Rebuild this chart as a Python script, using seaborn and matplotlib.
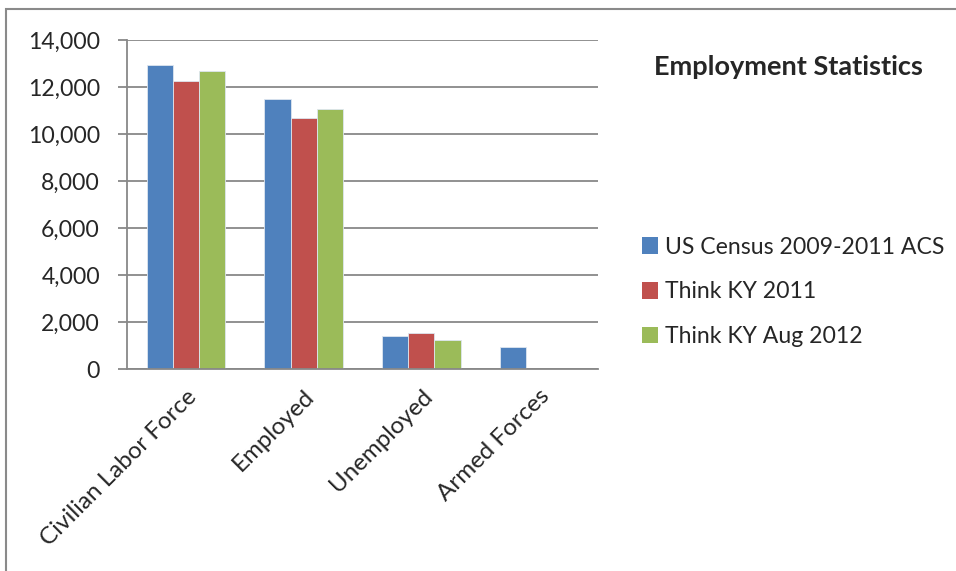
import matplotlib
matplotlib.use("Agg")
import matplotlib.pyplot as plt
import matplotlib.patches as mpatches
import matplotlib.transforms as mtransforms
import seaborn as sns
import pandas as pd

# data
categories = ['Civilian Labor Force', 'Employed', 'Unemployed', 'Armed Forces']
series = ['US Census 2009-2011 ACS', 'Think KY 2011', 'Think KY Aug 2012']
census = [12930, 11480, 1420, 920]
ky_2011 = [12250, 10700, 1530, None]
ky_2012 = [12660, 11050, 1240, None]
colors = ['#4F81BD', '#C0504D', '#9BBB59']

rows = []
for name, vals in zip(series, [census, ky_2011, ky_2012]):
    for cat, v in zip(categories, vals):
        if v is not None:
            rows.append({'Category': cat, 'Source': name, 'Value': v})
df = pd.DataFrame(rows)

sns.set_style('white')
plt.rcParams['font.family'] = ['Lato', 'DejaVu Sans']
fs = 16.6

fig = plt.figure(figsize=(9.56, 5.71), dpi=100)
ax = fig.add_axes([127 / 956, 1 - 369 / 571, (598 - 127) / 956, (369 - 40) / 571])

sns.barplot(data=df, x='Category', y='Value', hue='Source', order=categories,
            hue_order=series, palette=colors, width=0.667, saturation=1,
            edgecolor='#dde6f0', linewidth=0.6, ax=ax)

grid_c = '#888888'
ax.set_xlim(-0.5, 3.5)
ax.set_ylim(0, 14000)
ax.set_yticks(range(0, 14001, 2000))
ax.set_yticklabels([f'{v:,}' for v in range(0, 14001, 2000)], fontsize=fs)
ax.yaxis.grid(True, color=grid_c, linewidth=1.3)
ax.set_axisbelow(True)
ax.set_xlabel('')
ax.set_ylabel('')

ax.set_xticks(range(4))
ax.set_xticklabels(categories, fontsize=17.4, rotation=45, ha='right',
                   va='top', rotation_mode='anchor')
shift = mtransforms.ScaledTranslation(-5 / 100, -4 / 100, fig.dpi_scale_trans)
for lbl in ax.get_xticklabels():
    lbl.set_transform(lbl.get_transform() + shift)
ax.set_xticks([i - 0.5 for i in range(5)], minor=True)
ax.tick_params(axis='x', which='major', length=0, pad=12)
ax.tick_params(axis='x', which='minor', length=6, width=1.3, color=grid_c, direction='out')
ax.tick_params(axis='y', length=6.5, width=1.3, color=grid_c, direction='out', pad=13, left=True)

for s in ['top', 'right']:
    ax.spines[s].set_visible(False)
for s in ['left', 'bottom']:
    ax.spines[s].set_color(grid_c)
    ax.spines[s].set_linewidth(1.3)

ax.get_legend().remove()
handles = [mpatches.Patch(facecolor=c, edgecolor='none') for c in colors]
fig.legend(handles, series, loc='center left', bbox_to_anchor=(0.662, 1 - 292 / 571),
           frameon=False, fontsize=fs, handlelength=0.7, handleheight=0.7,
           handletextpad=0.3, labelspacing=1.04, borderaxespad=0)

fig.text(788 / 956, 1 - 67 / 571, 'Employment Statistics', fontsize=19.5,
         fontweight='bold', ha='center', va='center')

# outer chart border (runs off the right and bottom edges)
fig.patches.append(mpatches.Rectangle((6 / 956, -0.1), 1.1, 1 - 9 / 571 + 0.1,
                                      transform=fig.transFigure, fill=False,
                                      edgecolor='#8a8a8a', linewidth=1.5))

fig.savefig('out.png', dpi=100)
